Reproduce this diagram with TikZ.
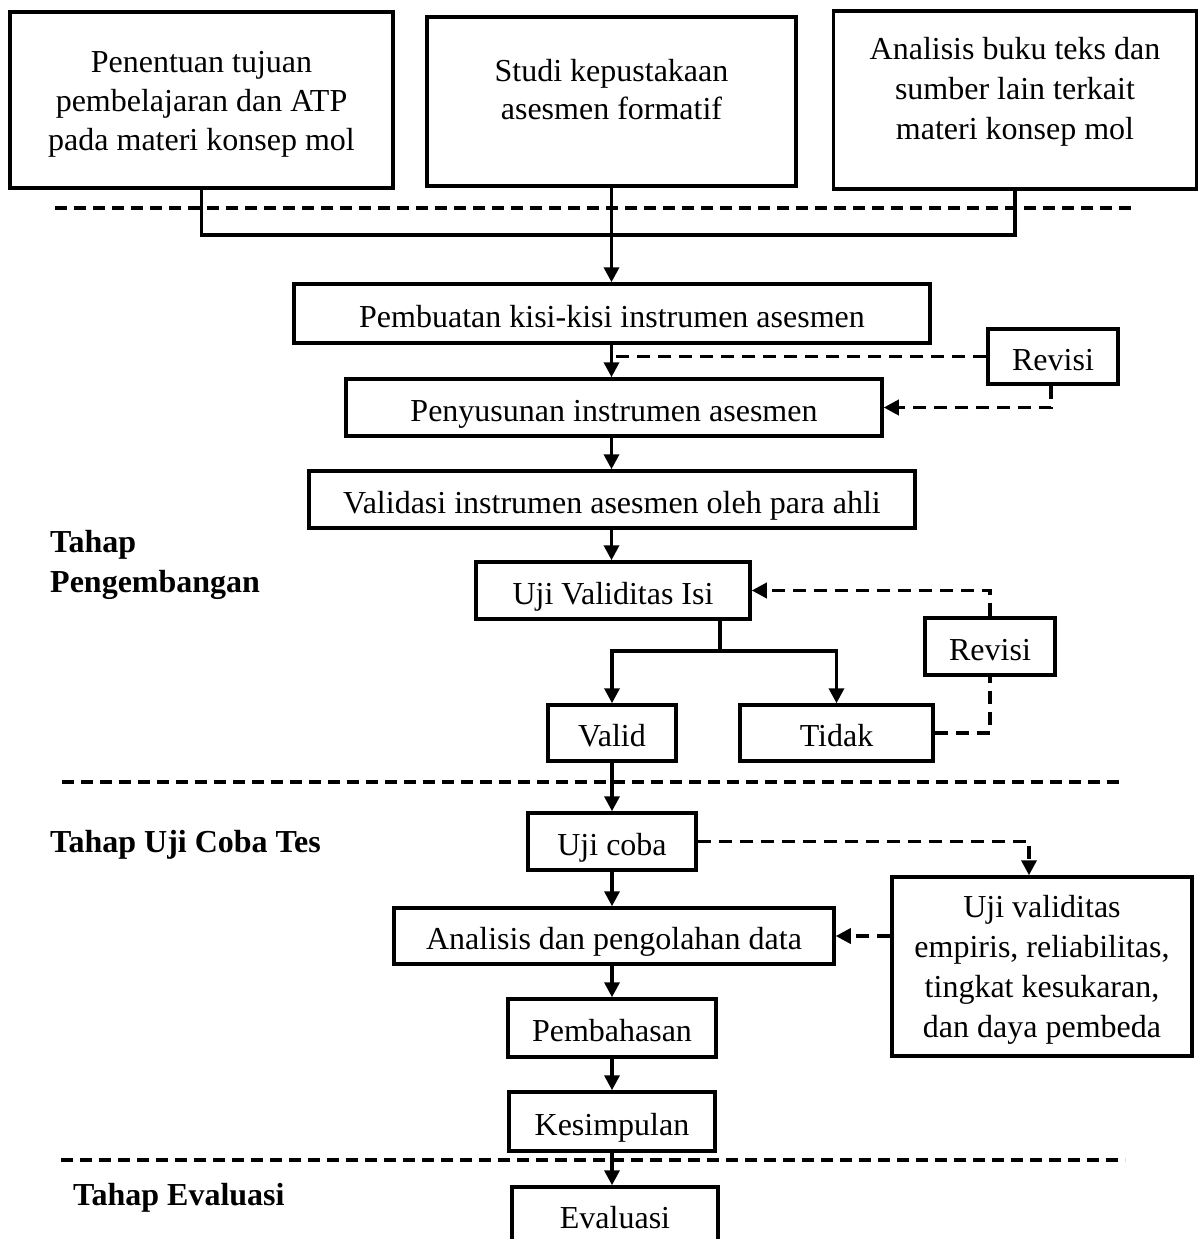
\documentclass[tikz,border=0pt]{standalone}
\usepackage{fontspec}
\setmainfont{Liberation Serif}
\usetikzlibrary{arrows.meta}
\newcommand{\boxlines}[3]{\raisebox{#1}[0pt][0pt]{\fontsize{32}{#2}\selectfont\begin{tabular}{@{}c@{}}#3\end{tabular}}}
\begin{document}
\begin{tikzpicture}[x=1pt,y=-1pt,
  box/.style={draw,line width=3.5pt,inner sep=0pt,align=center,font=\fontsize{32}{39}\selectfont},
  one/.style={box,text height=30pt,text depth=3pt},
  conn/.style={line width=3.5pt},
  arr/.style={conn,-{Triangle[length=15pt,width=15pt]}},
  dconn/.style={line width=3.5pt,dash pattern=on 13pt off 8pt},
  darr/.style={dconn,-{Triangle[length=15pt,width=15pt]}},
  sep/.style={line width=4pt,dash pattern=on 12pt off 7pt},
  phase/.style={font=\fontsize{32}{40}\selectfont\bfseries,anchor=base west,inner sep=0pt,align=left}]
\path[clip] (0,0) rectangle (1198,1239);
\fill[white] (0,0) rectangle (1198,1239);

% separators
\draw[sep] (55,208) -- (1137,208);
\draw[sep] (62,782) -- (1125,782);
\draw[sep] (61,1160) -- (1125,1160);

% top boxes
\node[box,minimum width=383pt,minimum height=176pt] (b1) at (201.5,100) {\boxlines{-10pt}{39}{Penentuan tujuan\\pembelajaran dan ATP\\pada materi konsep mol}};
\node[box,minimum width=369pt,minimum height=169pt] (b2) at (611.5,101.5) {\boxlines{2pt}{38}{Studi kepustakaan\\asesmen formatif}};
\node[box,minimum width=363pt,minimum height=178pt] (b3) at (1015,100) {\boxlines{2pt}{40}{Analisis buku teks dan\\sumber lain terkait\\materi konsep mol}};

% development stage
\node[one,minimum width=636pt,minimum height=59pt] (pb) at (612,313.5) {Pembuatan kisi-kisi instrumen asesmen};
\node[one,minimum width=536pt,minimum height=57pt] (ps) at (614,407.5) {Penyusunan instrumen asesmen};
\node[one,minimum width=606pt,minimum height=57pt] (va) at (612,499.5) {Validasi instrumen asesmen oleh para ahli};
\node[one,minimum width=274pt,minimum height=57pt] (uv) at (613,590.5) {Uji Validitas Isi};
\node[one,minimum width=128pt,minimum height=56pt] (vd) at (612,733) {Valid};
\node[one,minimum width=193pt,minimum height=56pt] (td) at (836.5,733) {Tidak};
\node[one,minimum width=130pt,minimum height=55pt] (r1) at (1053,356.5) {Revisi};
\node[one,minimum width=130pt,minimum height=57pt] (r2) at (990,646.5) {Revisi};

% trial stage
\node[one,minimum width=168pt,minimum height=57pt] (uc) at (612,841.5) {Uji coba};
\node[box,minimum width=300pt,minimum height=179pt] (ue) at (1042,966.5) {\boxlines{-9.5pt}{40}{Uji validitas\\empiris, reliabilitas,\\tingkat kesukaran,\\dan daya pembeda}};
\node[one,minimum width=440pt,minimum height=56pt] (an) at (614,936) {Analisis dan pengolahan data};
\node[one,minimum width=208pt,minimum height=58pt] (pm) at (612,1028) {Pembahasan};
\node[one,minimum width=206pt,minimum height=59pt] (ks) at (612,1121.5) {Kesimpulan};
\node[one,minimum width=206pt,minimum height=55pt] (ev) at (615,1214.5) {Evaluasi};

% phase labels
\node[phase] (t1) at (50,552) {Tahap};
\node[phase] (t2) at (50,592) {Pengembangan};
\node[phase] (t3) at (50,852) {Tahap Uji Coba Tes};
\node[phase] (t4) at (73,1205) {Tahap Evaluasi};

% connectors
\draw[conn] (b1.south) -- ++(0,45) -| (b3.south);
\draw[arr] (b2.south) -- (b2.south |- pb.north);
\draw[arr] (pb.south -| b2.south) -- (b2.south |- ps.north);
\draw[arr] (ps.south -| b2.south) -- (b2.south |- va.north);
\draw[arr] (va.south -| b2.south) -- (b2.south |- uv.north);
\draw[dconn] (r1.west) -- (r1.west -| b2.south);
\draw[darr] ([xshift=-2pt]r1.south) |- (ps.east);

\coordinate (br) at (720,651);
\draw[conn] (uv.south -| br) -- (br);
\draw[arr] (br) -| (vd.north);
\draw[arr] (br) -| (td.north);
\draw[dconn] (td.east) -| (r2.south);
\draw[darr] (r2.north) |- (uv.east);

\draw[arr] (vd.south) -- (vd.south |- uc.north);
\draw[darr] (uc.east) -| ([xshift=-13pt]ue.north);
\draw[arr] (uc.south) -- (uc.south |- an.north);
\draw[darr] (ue.west |- an.east) -- (an.east);
\draw[arr] (an.south -| uc.south) -- (uc.south |- pm.north);
\draw[arr] (pm.south) -- (pm.south |- ks.north);
\draw[arr] (ks.south) -- (ks.south |- ev.north);
\end{tikzpicture}
\end{document}
